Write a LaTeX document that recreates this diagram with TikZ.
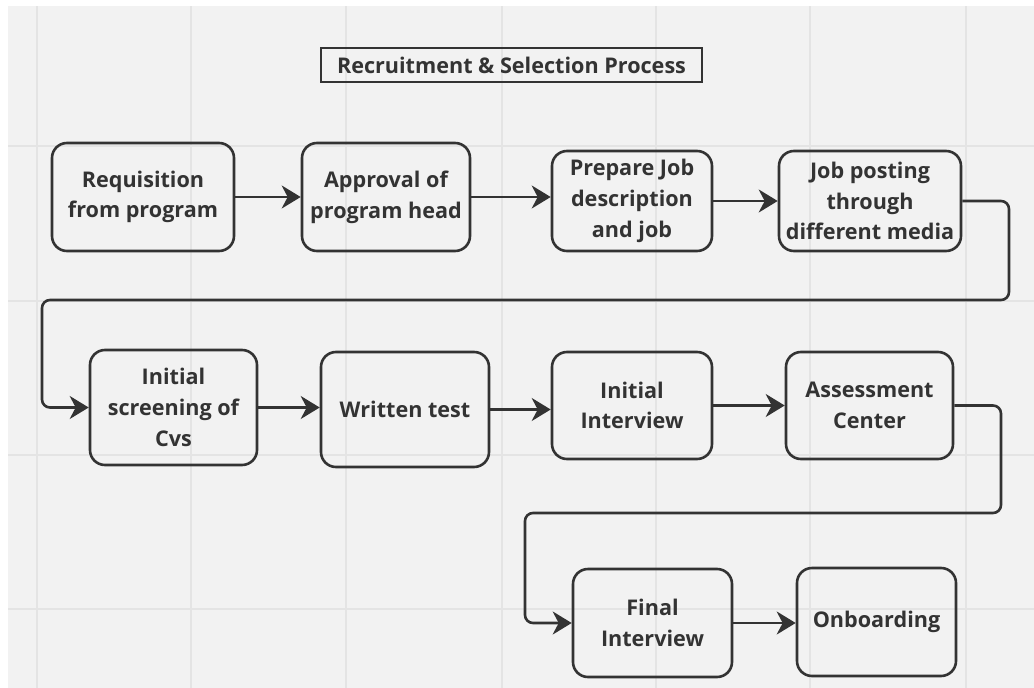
\documentclass[tikz,border=0pt]{standalone}
\usepackage{fontspec}
\setmainfont{Open Sans}
\usetikzlibrary{arrows.meta}
\definecolor{canvas}{HTML}{F2F2F2}
\definecolor{gridline}{HTML}{E4E4E4}
\definecolor{ink}{HTML}{333333}

\begin{document}
\begin{tikzpicture}[x=1pt,y=-1pt,
  stepbox/.style={draw=ink, line width=2.6pt, rounded corners=15pt, align=center,
    font=\bfseries\fontsize{21.6}{30.7}\selectfont, text=ink, inner sep=0pt},
  titlebox/.style={draw=ink, line width=2.6pt, align=center,
    font=\bfseries\fontsize{21.6}{24}\selectfont, text=ink, inner sep=0pt},
  flow/.style={draw=ink, line width=2.6pt, rounded corners=8pt,
    -{Stealth[length=19pt,width=23pt,inset=6pt]}},
  gridrule/.style={draw=gridline, line width=1.4pt}]
  \useasboundingbox (0,0) rectangle (1034,688);

  % canvas and background grid
  \fill[white] (0,0) rectangle (1034,688);
  \fill[canvas] (8,6) rectangle (1034,688);
  \foreach \gx in {37,191,346,502,656,810,966}
    \draw[gridrule] (\gx,6) -- (\gx,688);
  \foreach \gy in {146,301,455,609}
    \draw[gridrule] (8,\gy) -- (1034,\gy);

  % heading
  \node[titlebox, minimum width=381pt, minimum height=34pt] (title) at (511.5,65)
    {Recruitment \& Selection Process};

  % first row
  \node[stepbox, minimum width=182pt, minimum height=108pt] (req) at (143,197)
    {Requisition\\from program};
  \node[stepbox, minimum width=168pt, minimum height=108pt] (appr) at (386,197)
    {Approval of\\program head};
  \node[stepbox, minimum width=160pt, minimum height=100pt] (prep) at (632,201)
    {Prepare Job\\description\\and job};
  \node[stepbox, minimum width=182pt, minimum height=100pt] (post) at (870,201)
    {Job posting\\through\\different media};

  % second row
  \node[stepbox, minimum width=167pt, minimum height=115pt] (screen) at (173.5,407.5)
    {Initial\\screening of\\Cvs};
  \node[stepbox, minimum width=168pt, minimum height=115pt] (written) at (405,409.5)
    {Written test};
  \node[stepbox, minimum width=160pt, minimum height=107pt] (iint) at (632,405.5)
    {Initial\\Interview};
  \node[stepbox, minimum width=167pt, minimum height=107pt] (assess) at (869.5,405.5)
    {Assessment\\Center};

  % third row
  \node[stepbox, minimum width=159pt, minimum height=108pt] (fint) at (652.5,623)
    {Final\\Interview};
  \node[stepbox, minimum width=159pt, minimum height=108pt] (onb) at (876.5,622)
    {Onboarding};

  % turning points of the two returning connectors
  \coordinate (r1a) at (1009,201);
  \coordinate (r1b) at (1009,300);
  \coordinate (r1c) at (42,300);
  \coordinate (r1d) at (42,407.5);
  \coordinate (r2a) at (1001,405.5);
  \coordinate (r2b) at (1001,513);
  \coordinate (r2c) at (525,513);
  \coordinate (r2d) at (525,623);

  % connectors
  \draw[flow] (req) -- (appr);
  \draw[flow] (appr.east) -- (appr.east -| prep.west);
  \draw[flow] (prep) -- (post);
  \draw[flow] (post.east) -- (r1a) -- (r1b) -- (r1c) -- (r1d) -- (screen.west);
  \draw[flow] (screen.east) -- (screen.east -| written.west);
  \draw[flow] (written.east) -- (written.east -| iint.west);
  \draw[flow] (iint) -- (assess);
  \draw[flow] (assess.east) -- (r2a) -- (r2b) -- (r2c) -- (r2d) -- (fint.west);
  \draw[flow] (fint.east) -- (fint.east -| onb.west);
\end{tikzpicture}
\end{document}
